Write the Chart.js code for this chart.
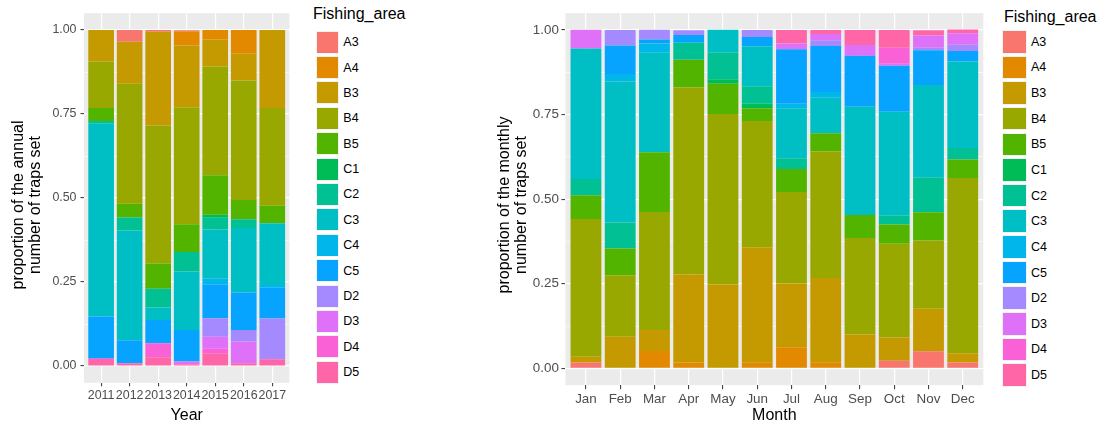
<!DOCTYPE html>
<html><head><meta charset="utf-8">
<script src="https://cdn.jsdelivr.net/npm/chart.js@4.4.1/dist/chart.umd.min.js"></script>
<style>
html,body{margin:0;padding:0;background:#fff;width:1105px;height:425px;overflow:hidden;font-family:"Liberation Sans",Arial,sans-serif;}
.wrap{position:absolute;top:0;height:425px;}
.ltitle{position:absolute;font-size:16px;line-height:16px;color:#000;white-space:nowrap;}
.key{position:absolute;box-sizing:border-box;border:1px solid #f2f2f2;}
.klab{position:absolute;font-size:12.5px;line-height:14px;color:#000;white-space:nowrap;}
</style></head><body>
<div class="wrap" style="left:0;width:300px"><canvas id="c1" width="300" height="425"></canvas></div>
<div class="wrap" style="left:470px;width:520px"><canvas id="c2" width="520" height="425"></canvas></div>
<div id="leg1"></div>
<div id="leg2"></div>
<script>
// ---------- data ----------
const areas = ['A3','A4','B3','B4','B5','C1','C2','C3','C4','C5','D2','D3','D4','D5'];
const years = ['2011','2012','2013','2014','2015','2016','2017'];
const months = ['Jan','Feb','Mar','Apr','May','Jun','Jul','Aug','Sep','Oct','Nov','Dec'];
const yTickValues = [0, 0.25, 0.5, 0.75, 1];
const yTickLabels = ['0.00', '0.25', '0.50', '0.75', '1.00'];
const yMinorValues = [0.125, 0.375, 0.625, 0.875];

// annual proportions (2011..2017)
const annualA3 = [0, 0.035, 0.005, 0.003, 0, 0, 0];
const annualA4 = [0, 0, 0, 0.042, 0.028, 0.069, 0];
const annualB3 = [0.094, 0.125, 0.279, 0.184, 0.081, 0.081, 0.232];
const annualB4 = [0.138, 0.357, 0.411, 0.348, 0.323, 0.356, 0.291];
const annualB5 = [0.039, 0.041, 0.075, 0.083, 0.118, 0.057, 0.052];
const annualC1 = [0, 0, 0, 0, 0.009, 0, 0];
const annualC2 = [0.008, 0.039, 0.056, 0.058, 0.035, 0.026, 0];
const annualC3 = [0.574, 0.326, 0.037, 0.174, 0.146, 0.192, 0.184];
const annualC4 = [0, 0, 0, 0, 0.018, 0, 0.008];
const annualC5 = [0.123, 0.069, 0.069, 0.093, 0.100, 0.112, 0.092];
const annualD2 = [0.003, 0, 0, 0.002, 0.055, 0.034, 0.121];
const annualD3 = [0, 0, 0, 0.007, 0.036, 0.065, 0];
const annualD4 = [0, 0, 0.042, 0, 0.013, 0, 0];
const annualD5 = [0.021, 0.008, 0.026, 0.005, 0.038, 0.008, 0.020];

// monthly proportions (Jan..Dec)
const monthlyA3 = [0.017, 0, 0, 0, 0, 0, 0, 0, 0, 0.022, 0.050, 0.017];
const monthlyA4 = [0, 0, 0.051, 0.017, 0, 0.016, 0.062, 0.016, 0, 0, 0, 0];
const monthlyB3 = [0.017, 0.093, 0.062, 0.260, 0.2475, 0.342, 0.1885, 0.251, 0.100, 0.069, 0.126, 0.0276];
const monthlyB4 = [0.4075, 0.182, 0.349, 0.553, 0.504, 0.373, 0.2705, 0.374, 0.285, 0.277, 0.2015, 0.5176];
const monthlyB5 = [0.070, 0.079, 0.177, 0.082, 0.090, 0.038, 0.068, 0.054, 0.068, 0.057, 0.0835, 0.055];
const monthlyC1 = [0, 0, 0, 0, 0.013, 0.013, 0, 0, 0, 0, 0, 0];
const monthlyC2 = [0.048, 0.077, 0, 0.050, 0.078, 0.052, 0.032, 0, 0, 0.0257, 0.1025, 0.034];
const monthlyC3 = [0.386, 0.417, 0.294, 0, 0.068, 0.118, 0.148, 0.105, 0.320, 0.308, 0.274, 0.256];
const monthlyC4 = [0, 0.022, 0.027, 0, 0, 0, 0.013, 0.017, 0, 0, 0, 0];
const monthlyC5 = [0, 0.084, 0.012, 0.0235, 0, 0.027, 0.161, 0.136, 0.151, 0.1355, 0.103, 0.031];
const monthlyD2 = [0, 0.046, 0.029, 0.014, 0, 0.021, 0, 0.017, 0, 0, 0.007, 0.018];
const monthlyD3 = [0.055, 0, 0, 0, 0, 0, 0.017, 0.018, 0.032, 0.006, 0.036, 0.034];
const monthlyD4 = [0, 0, 0, 0, 0, 0, 0, 0, 0, 0.047, 0, 0];
const monthlyD5 = [0, 0, 0, 0, 0, 0, 0.040, 0.012, 0.044, 0.053, 0.016, 0.011];

// ---------- styles ----------
const areaColors = ['#F8766D','#E38900','#C49A00','#99A800','#53B400','#00BC56','#00C094',
                    '#00BFC4','#00B6EB','#06A4FF','#A58AFF','#DF70F8','#FB61D7','#FF66A8'];
const FONT = '"Liberation Sans", Arial, sans-serif';

const annualSeries = [annualA3, annualA4, annualB3, annualB4, annualB5, annualC1, annualC2,
  annualC3, annualC4, annualC5, annualD2, annualD3, annualD4, annualD5];
const monthlySeries = [monthlyA3, monthlyA4, monthlyB3, monthlyB4, monthlyB5, monthlyC1, monthlyC2,
  monthlyC3, monthlyC4, monthlyC5, monthlyD2, monthlyD3, monthlyD4, monthlyD5];

const panelBg = {
  id: 'panelBg',
  beforeDraw(chart) {
    const {ctx, chartArea: a} = chart;
    ctx.save();
    ctx.fillStyle = '#EBEBEB';
    ctx.fillRect(a.left, a.top, a.right - a.left, a.bottom - a.top);
    ctx.restore();
  }
};
const yTitle = {
  id: 'yTitle',
  afterDraw(chart, args, opts) {
    const ctx = chart.ctx;
    ctx.save();
    ctx.translate(opts.x, opts.y);
    ctx.rotate(-Math.PI / 2);
    ctx.font = '16px ' + FONT;
    ctx.fillStyle = '#000';
    ctx.textAlign = 'center';
    ctx.textBaseline = 'middle';
    opts.lines.forEach((l, i) => ctx.fillText(l, 0, i * opts.lh));
    ctx.restore();
  }
};

function isMajorY(v) { return yTickValues.some(t => Math.abs(t - v) < 1e-9); }

function makeChart(id, cats, series, cfg) {
  let datasets = areas.map((a, i) => ({
    label: a,
    data: series[i].map((v, j) => ({x: j, y: v})),
    backgroundColor: areaColors[i],
    borderWidth: 0,
    barPercentage: 0.9,
    categoryPercentage: 1.0
  }));
  if (cfg.firstOnTop) datasets = datasets.reverse();
  return new Chart(document.getElementById(id), {
    type: 'bar',
    data: {datasets},
    plugins: [panelBg, yTitle],
    options: {
      responsive: false,
      animation: false,
      devicePixelRatio: 1,
      layout: {padding: {left: 0, top: cfg.top, right: cfg.right, bottom: 0}},
      plugins: {
        legend: {display: false},
        tooltip: {enabled: false},
        yTitle: {x: cfg.titleX, y: cfg.titleY, lh: 16.5, lines: cfg.yTitle}
      },
      scales: {
        x: {
          type: 'linear', stacked: true, offset: false,
          min: -0.6, max: cats.length - 1 + 0.6,
          afterBuildTicks: s => { s.ticks = cats.map((c, i) => ({value: i})); },
          afterFit: s => { s.height = cfg.xHeight; },
          border: {display: false},
          grid: {offset: false, color: '#FFFFFF', lineWidth: 1.2, tickColor: '#333333', tickWidth: 1, tickLength: cfg.tl, drawTicks: true},
          ticks: {
            autoSkip: false, maxRotation: 0, minRotation: 0, padding: cfg.xPad,
            color: '#4D4D4D', font: {family: FONT, size: cfg.tickSize},
            callback: v => cats[Math.round(v)]
          },
          title: {display: true, text: cfg.xTitle, color: '#000', font: {family: FONT, size: 16, lineHeight: 1}, padding: {top: 0, bottom: cfg.xTitlePad}}
        },
        y: {
          stacked: true, min: -0.05, max: 1.05,
          afterBuildTicks: s => { s.ticks = yTickValues.concat(yMinorValues).sort((a, b) => a - b).map(v => ({value: v})); },
          afterFit: s => { s.width = cfg.yWidth; },
          border: {display: false},
          grid: {
            color: '#FFFFFF',
            lineWidth: c => isMajorY(c.tick.value) ? 1.2 : 0.6,
            tickColor: c => isMajorY(c.tick.value) ? '#333333' : 'rgba(0,0,0,0)',
            tickWidth: 1, tickLength: cfg.tl, drawTicks: true
          },
          ticks: {
            autoSkip: false, padding: cfg.yPad, color: '#4D4D4D',
            font: {family: FONT, size: cfg.tickSize},
            callback: v => { const k = yTickValues.findIndex(t => Math.abs(t - v) < 1e-9); return k >= 0 ? yTickLabels[k] : ''; }
          }
        }
      }
    }
  });
}

makeChart('c1', years, annualSeries, {
  firstOnTop: true,
  top: 13.2, right: 10.6, yWidth: 84, xHeight: 42.2, tl: 3.5, yPad: 4, xPad: 2.3, tickSize: 12.4,
  xTitle: 'Year', xTitlePad: 1, titleX: 19, titleY: 205,
  yTitle: ['proportion of the annual', 'number of traps set']
});
makeChart('c2', months, monthlySeries, {
  firstOnTop: false,
  top: 13.1, right: 6.7, yWidth: 95.4, xHeight: 39.8, tl: 4, yPad: 2.5, xPad: 2.3, tickSize: 13.4,
  xTitle: 'Month', xTitlePad: 1, titleX: 35, titleY: 205,
  yTitle: ['proportion of the monthly', 'number of traps set']
});

function makeLegend(el, cfg) {
  let html = `<div class="ltitle" style="left:${cfg.titleLeft}px;top:${cfg.titleCy - 8}px">Fishing_area</div>`;
  areas.forEach((a, i) => {
    const top = cfg.keyTop + i * cfg.pitch;
    html += `<div class="key" style="left:${cfg.keyLeft}px;top:${top}px;width:${cfg.keyW}px;height:${cfg.keyH}px;background:${areaColors[i]}"></div>`;
    html += `<div class="klab" style="left:${cfg.labLeft}px;top:${top + cfg.keyH / 2 - 7}px">${a}</div>`;
  });
  el.innerHTML = html;
}
makeLegend(document.getElementById('leg1'), {titleLeft: 313, titleCy: 14, keyLeft: 315.7, keyTop: 30.7, pitch: 25.38, keyW: 23.3, keyH: 23, labLeft: 343.3});
makeLegend(document.getElementById('leg2'), {titleLeft: 1004, titleCy: 16.7, keyLeft: 1002.3, keyTop: 30, pitch: 25.64, keyW: 24.3, keyH: 23.5, labLeft: 1031});
</script>
</body></html>
